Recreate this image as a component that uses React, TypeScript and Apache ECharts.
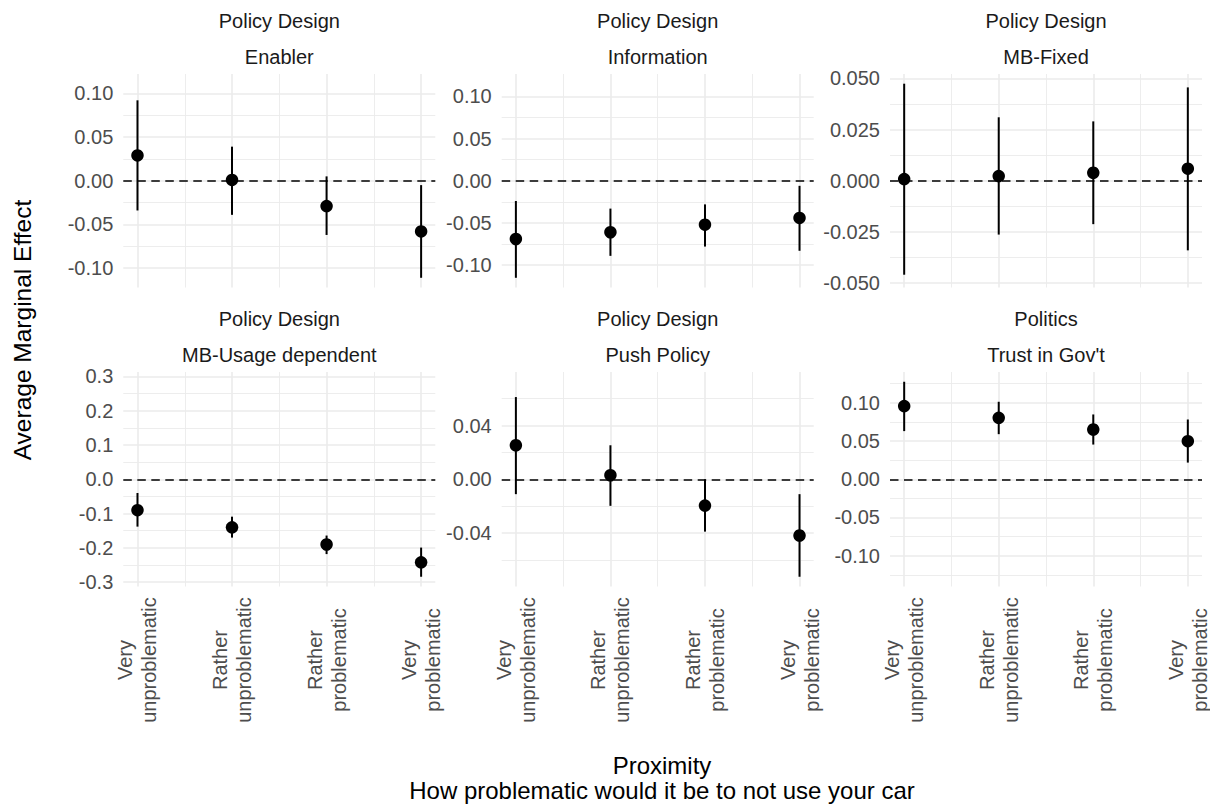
import React, { useEffect, useRef } from "react";
import * as echarts from "echarts";

// ---------- data ----------
const categories = ["Very\nunproblematic", "Rather\nunproblematic", "Rather\nproblematic", "Very\nproblematic"];
const xPositions = [1, 2, 3, 4];
const xMinorBreaks = [1.5, 2.5, 3.5];

const panelGroups = ["Policy Design", "Policy Design", "Policy Design", "Policy Design", "Policy Design", "Politics"];
const panelNames = ["Enabler", "Information", "MB-Fixed", "MB-Usage dependent", "Push Policy", "Trust in Gov't"];

const enablerEst = [0.029, 0.001, -0.029, -0.058];
const enablerLow = [-0.034, -0.039, -0.062, -0.111];
const enablerHigh = [0.092, 0.039, 0.005, -0.005];

const informationEst = [-0.069, -0.061, -0.052, -0.044];
const informationLow = [-0.115, -0.089, -0.078, -0.083];
const informationHigh = [-0.024, -0.033, -0.028, -0.006];

const mbFixedEst = [0.0008, 0.0023, 0.0039, 0.0059];
const mbFixedLow = [-0.0459, -0.0263, -0.0212, -0.034];
const mbFixedHigh = [0.0474, 0.031, 0.029, 0.0456];

const mbUsageEst = [-0.09, -0.14, -0.19, -0.242];
const mbUsageLow = [-0.138, -0.17, -0.218, -0.284];
const mbUsageHigh = [-0.04, -0.109, -0.164, -0.199];

const pushEst = [0.0253, 0.003, -0.0196, -0.0419];
const pushLow = [-0.0111, -0.0198, -0.039, -0.0726];
const pushHigh = [0.0612, 0.0253, 0.0, -0.0111];

const trustEst = [0.0957, 0.0804, 0.0651, 0.0498];
const trustLow = [0.063, 0.059, 0.0454, 0.0218];
const trustHigh = [0.1276, 0.1014, 0.0848, 0.0782];

const enablerBreaks = [-0.1, -0.05, 0, 0.05, 0.1];
const enablerMinor = [-0.075, -0.025, 0.025, 0.075];
const informationBreaks = [-0.1, -0.05, 0, 0.05, 0.1];
const informationMinor = [-0.075, -0.025, 0.025, 0.075];
const mbFixedBreaks = [-0.05, -0.025, 0, 0.025, 0.05];
const mbFixedMinor = [-0.0375, -0.0125, 0.0125, 0.0375];
const mbUsageBreaks = [-0.3, -0.2, -0.1, 0, 0.1, 0.2, 0.3];
const mbUsageMinor = [-0.25, -0.15, -0.05, 0.05, 0.15, 0.25];
const pushBreaks = [-0.04, 0, 0.04];
const pushMinor = [-0.06, -0.02, 0.02, 0.06];
const trustBreaks = [-0.1, -0.05, 0, 0.05, 0.1];
const trustMinor = [-0.125, -0.075, -0.025, 0.025, 0.075, 0.125];

const labelDecimals = [2, 2, 3, 1, 2, 2];

const xTitleLine1 = "Proximity";
const xTitleLine2 = "How problematic would it be to not use your car";
const yTitle = "Average Marginal Effect";

// ---------- layout ----------
const FONT = "'Liberation Sans', Arial, Helvetica, sans-serif";
const colLeft = [123.3, 501.7, 890];
const panelWidth = 312;
const rowTop = [74, 372];
const rowHeight = [213.5, 214.5];

const panels = [
  { est: enablerEst, low: enablerLow, high: enablerHigh, majors: enablerBreaks, minors: enablerMinor },
  { est: informationEst, low: informationLow, high: informationHigh, majors: informationBreaks, minors: informationMinor },
  { est: mbFixedEst, low: mbFixedLow, high: mbFixedHigh, majors: mbFixedBreaks, minors: mbFixedMinor },
  { est: mbUsageEst, low: mbUsageLow, high: mbUsageHigh, majors: mbUsageBreaks, minors: mbUsageMinor },
  { est: pushEst, low: pushLow, high: pushHigh, majors: pushBreaks, minors: pushMinor },
  { est: trustEst, low: trustLow, high: trustHigh, majors: trustBreaks, minors: trustMinor },
];

function buildOption() {
  const grid: any[] = [];
  const xAxis: any[] = [];
  const yAxis: any[] = [];
  const series: any[] = [];
  const graphic: any[] = [];

  panels.forEach((p, i) => {
    const col = i % 3;
    const row = Math.floor(i / 3);
    const left = colLeft[col];
    const top = rowTop[row];
    const height = rowHeight[row];
    grid.push({ left, top, width: panelWidth, height, outerBoundsMode: "none", containLabel: false });

    const maxAbs = Math.max(...p.low.map(Math.abs), ...p.high.map(Math.abs));
    const lim = maxAbs * 1.1;
    const bottomRow = row === 1;
    const dec = labelDecimals[i];

    xAxis.push({
      gridIndex: i,
      type: "value",
      min: 0.85,
      max: 4.15,
      axisLine: { show: false },
      axisTick: { show: false, customValues: xPositions },
      axisLabel: {
        show: bottomRow,
        customValues: xPositions,
        formatter: (v: number) => categories[xPositions.indexOf(Math.round(v))] || "",
        rotate: 90,
        align: "center",
        verticalAlign: "middle",
        margin: 73.5,
        lineHeight: 24,
        fontSize: 20,
        color: "#4d4d4d",
        fontFamily: FONT,
      },
      splitLine: { show: true, lineStyle: { color: "#ebebeb", width: 1.6 } },
    });
    xAxis.push({
      gridIndex: i,
      type: "value",
      min: 0.85,
      max: 4.15,
      axisLine: { show: false },
      axisTick: { show: false, customValues: xMinorBreaks },
      axisLabel: { show: false },
      splitLine: { show: true, lineStyle: { color: "#ebebeb", width: 0.9 } },
    });
    yAxis.push({
      gridIndex: i,
      type: "value",
      min: -lim,
      max: lim,
      axisLine: { show: false },
      axisTick: { show: false, customValues: p.majors },
      axisLabel: {
        customValues: p.majors,
        formatter: (v: number) => (Math.abs(v) < 1e-9 ? 0 : v).toFixed(dec),
        fontSize: 20,
        color: "#4d4d4d",
        fontFamily: FONT,
        margin: 10,
      },
      splitLine: { show: true, lineStyle: { color: "#ebebeb", width: 1.6 } },
    });
    yAxis.push({
      gridIndex: i,
      type: "value",
      min: -lim,
      max: lim,
      axisLine: { show: false },
      axisTick: { show: false, customValues: p.minors },
      axisLabel: { show: false },
      splitLine: { show: true, lineStyle: { color: "#ebebeb", width: 0.9 } },
    });

    series.push({
      type: "custom",
      xAxisIndex: 2 * i,
      yAxisIndex: 2 * i,
      z: 3,
      data: xPositions.map((x, j) => [x, p.low[j], p.high[j]]),
      encode: { x: 0, y: [1, 2] },
      renderItem: (_params: any, api: any) => {
        const a = api.coord([api.value(0), api.value(1)]);
        const b = api.coord([api.value(0), api.value(2)]);
        return {
          type: "line",
          shape: { x1: a[0], y1: a[1], x2: b[0], y2: b[1] },
          style: { stroke: "#000", lineWidth: 2 },
        };
      },
    });
    series.push({
      type: "scatter",
      xAxisIndex: 2 * i,
      yAxisIndex: 2 * i,
      z: 4,
      symbol: "circle",
      symbolSize: 12.5,
      itemStyle: { color: "#000", opacity: 1 },
      data: xPositions.map((x, j) => [x, p.est[j]]),
      markLine: {
        silent: true,
        symbol: ["none", "none"],
        label: { show: false },
        lineStyle: { color: "#000", width: 1.6, type: [8.5, 5.5], opacity: 1 },
        data: [{ yAxis: 0 }],
        z: 2,
      },
    });

    const cx = left + panelWidth / 2;
    graphic.push({
      type: "text",
      x: cx,
      y: top - 53,
      style: { text: panelGroups[i], textAlign: "center", textVerticalAlign: "middle", fontSize: 20, fill: "#1a1a1a", fontFamily: FONT },
    });
    graphic.push({
      type: "text",
      x: cx,
      y: top - 17,
      style: { text: panelNames[i], textAlign: "center", textVerticalAlign: "middle", fontSize: 20, fill: "#1a1a1a", fontFamily: FONT },
    });
  });

  graphic.push({
    type: "text",
    x: 662,
    y: 765,
    style: { text: xTitleLine1, textAlign: "center", textVerticalAlign: "middle", fontSize: 24, fill: "#000", fontFamily: FONT },
  });
  graphic.push({
    type: "text",
    x: 662,
    y: 790,
    style: { text: xTitleLine2, textAlign: "center", textVerticalAlign: "middle", fontSize: 24, fill: "#000", fontFamily: FONT },
  });
  graphic.push({
    type: "text",
    x: 22,
    y: 330,
    rotation: Math.PI / 2,
    style: { text: yTitle, textAlign: "center", textVerticalAlign: "middle", fontSize: 24.5, fill: "#000", fontFamily: FONT },
  });

  return {
    animation: false,
    backgroundColor: "#ffffff",
    textStyle: { fontFamily: FONT },
    grid,
    xAxis,
    yAxis,
    series,
    graphic,
  };
}

export default function App() {
  const ref = useRef<HTMLDivElement>(null);
  useEffect(() => {
    if (!ref.current) return;
    const chart = echarts.init(ref.current, undefined, { renderer: "svg" });
    chart.setOption(buildOption() as any);
    return () => chart.dispose();
  }, []);
  return <div ref={ref} style={{ position: "absolute", left: 0, top: 0, width: 1210, height: 806 }} />;
}
